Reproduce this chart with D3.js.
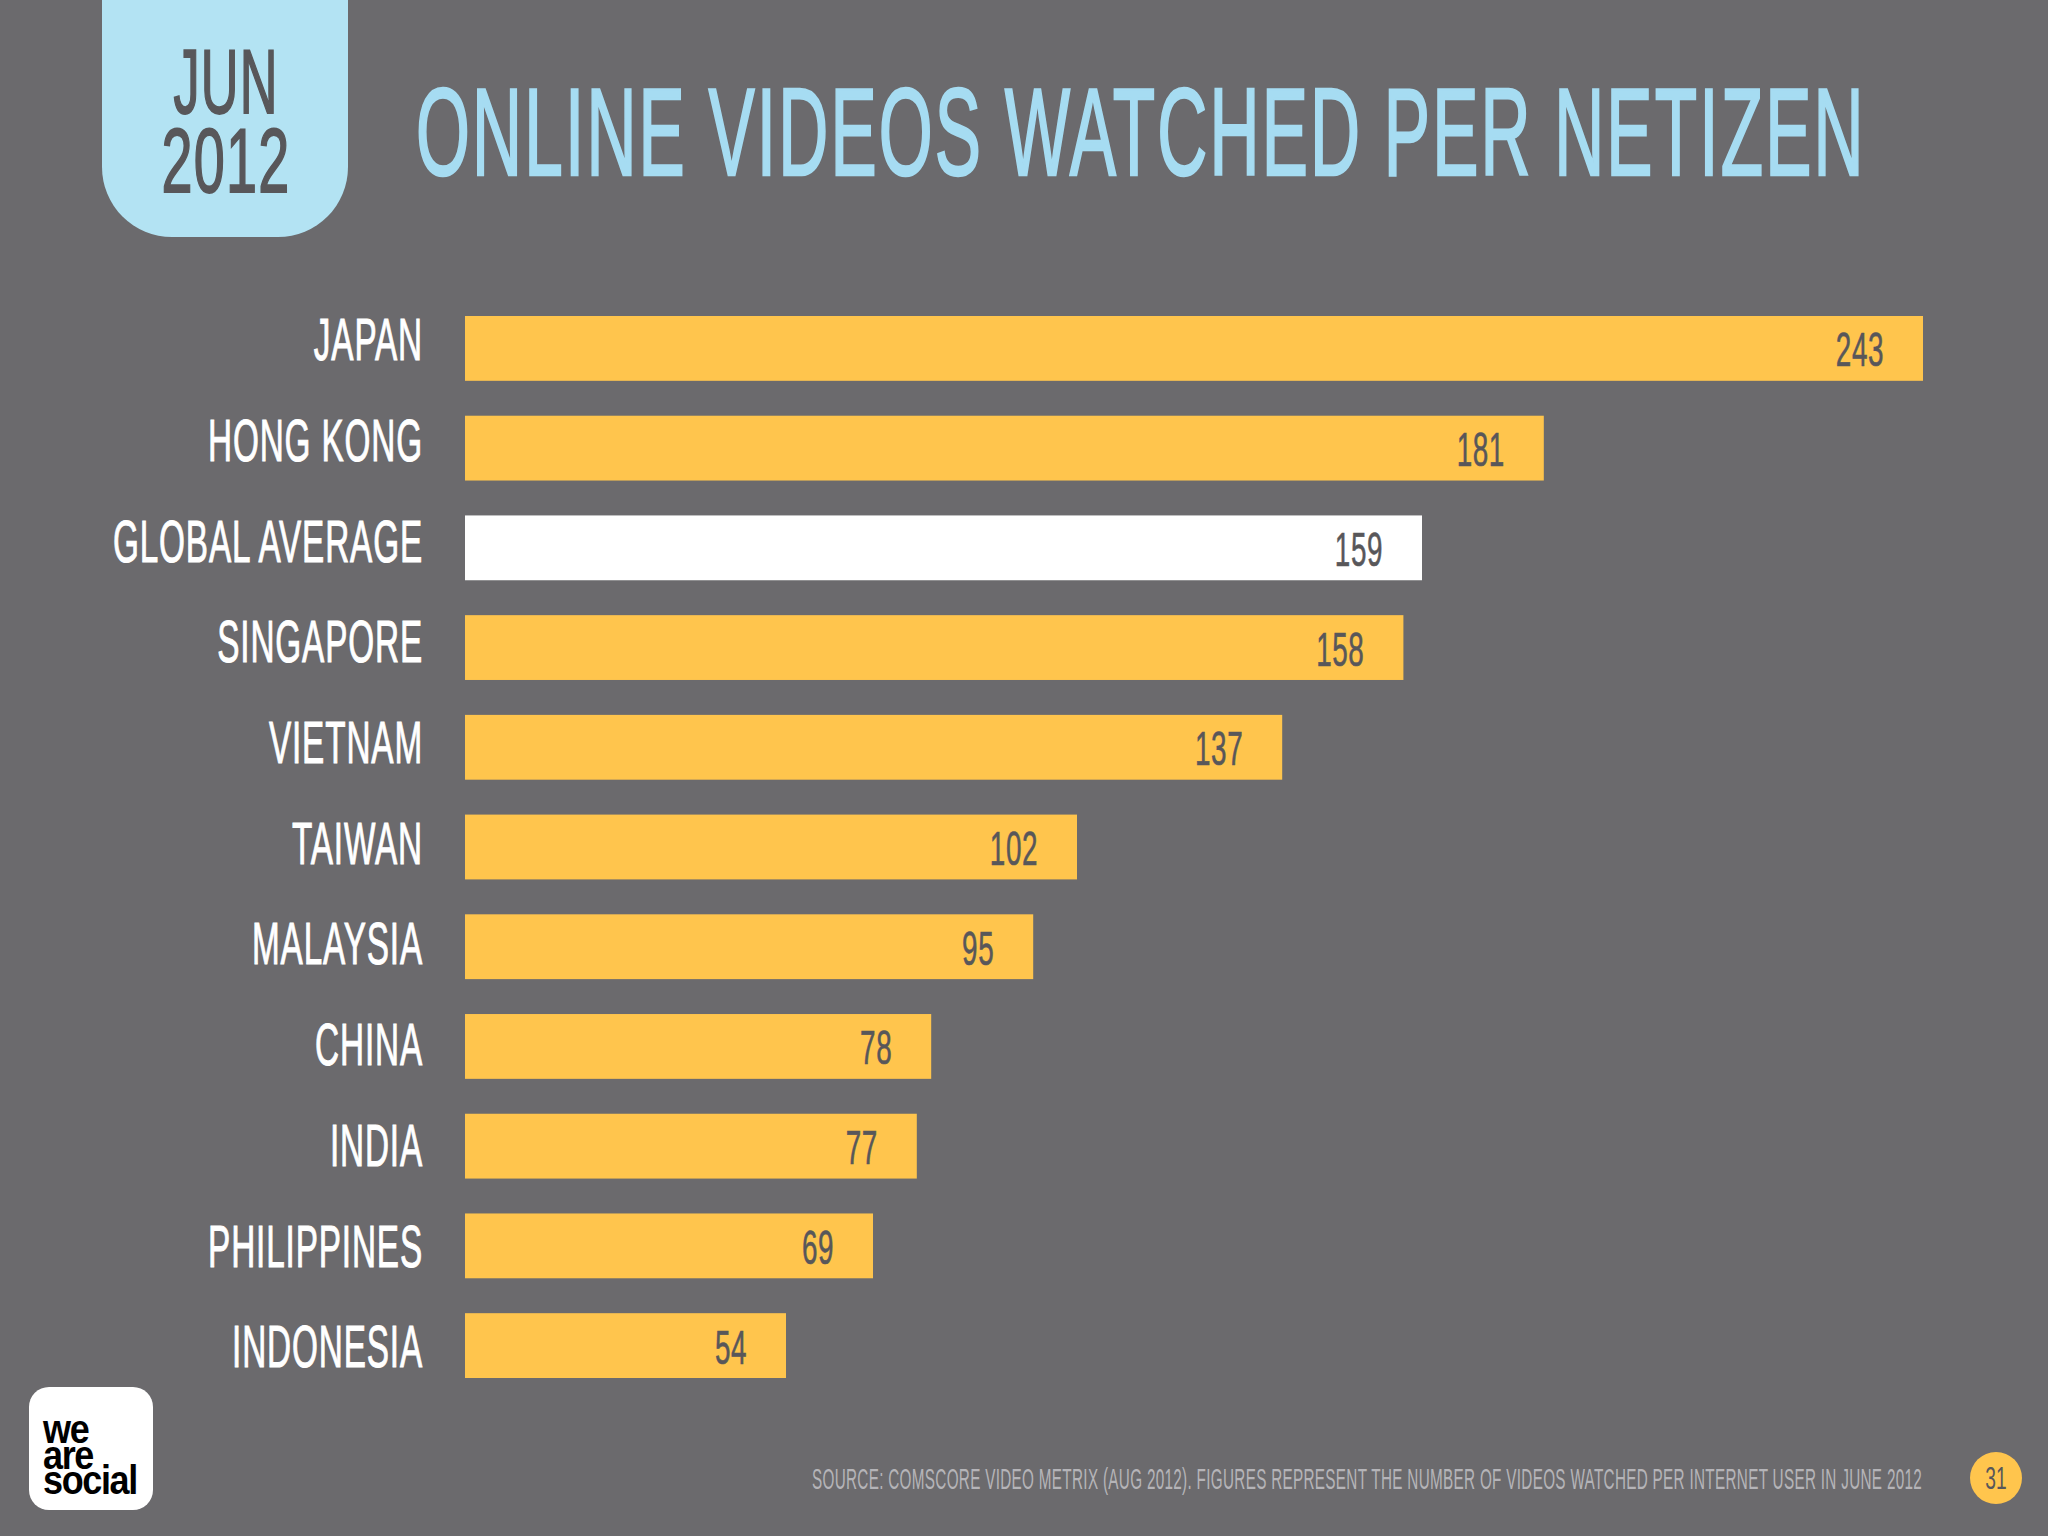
<!DOCTYPE html>
<html>
<head>
<meta charset="utf-8">
<title>Online videos watched per netizen</title>
<script src="https://cdnjs.cloudflare.com/ajax/libs/d3/7.8.5/d3.min.js"></script>
<style>
html, body { margin: 0; padding: 0; background: #6b6a6d; }
svg { display: block; }
text { font-family: "Liberation Sans", sans-serif; }
</style>
</head>
<body>
<svg id="chart" width="2048" height="1536"></svg>
<script>
var categories = ["JAPAN", "HONG KONG", "GLOBAL AVERAGE", "SINGAPORE", "VIETNAM", "TAIWAN", "MALAYSIA", "CHINA", "INDIA", "PHILIPPINES", "INDONESIA"];
// the numbers printed on the bars
var values = [243, 181, 159, 158, 137, 102, 95, 78, 77, 69, 54];
// bar lengths as they are drawn in the picture, same unit (they don't follow the printed numbers exactly)
var drawnValues = [243, 179.8, 159.5, 156.4, 136.2, 102, 94.7, 77.7, 75.3, 68, 53.5];
var badgeLines = ["JUN", "2012"];
var logoLines = ["we", "are", "social"];
var titleText = "ONLINE VIDEOS WATCHED PER NETIZEN";
var sourceText = "SOURCE: COMSCORE VIDEO METRIX (AUG 2012). FIGURES REPRESENT THE NUMBER OF VIDEOS WATCHED PER INTERNET USER IN JUNE 2012";
var pageNumber = "31";

var svg = d3.select("#chart");

var x = d3.scaleLinear().domain([0, 243]).range([465, 1923]);
var y = d3.scaleBand().domain(categories).range([316, 1378]).paddingInner(0.35).paddingOuter(0);
// the labels in the slide sit on a slightly wider step than the bars
var labelY = d3.scaleBand().domain(categories).range([288.6, 1396.3]);

// no condensed face is installed, so the text gets squeezed horizontally around its anchor
function squeeze(sel, k) {
	sel.each(function() {
		var t = d3.select(this),
			px = +t.attr("x") || 0,
			py = +t.attr("y") || 0;
		t.attr("x", 0).attr("y", 0)
			.attr("transform", "translate(" + px + "," + py + ") scale(" + k + ",1)");
	});
}

// same, but to a wanted width on the page
function fitWidth(sel, w) {
	sel.each(function() {
		squeeze(d3.select(this), w / this.getComputedTextLength());
	});
}

svg.append("rect").attr("width", 2048).attr("height", 1536).attr("fill", "#6b6a6d");

// date badge, square on top and round at the bottom
var bx0 = 102, bx1 = 348, by1 = 237, br = 70;
svg.append("path")
	.attr("d", "M" + bx0 + ",0 L" + bx1 + ",0 L" + bx1 + "," + (by1 - br) +
		" A" + br + "," + br + " 0 0 1 " + (bx1 - br) + "," + by1 +
		" L" + (bx0 + br) + "," + by1 +
		" A" + br + "," + br + " 0 0 1 " + bx0 + "," + (by1 - br) + " Z")
	.attr("fill", "#b3e3f3");

svg.selectAll(".badge-line")
	.data(badgeLines)
	.enter().append("text")
	.attr("class", "badge-line")
	.attr("x", 226)
	.attr("y", function(d, i) { return 113 + i * 79; })
	.attr("text-anchor", "middle")
	.attr("font-size", 90)
	.attr("letter-spacing", 2)
	.attr("fill", "#58575a")
	.attr("stroke", "#58575a")
	.attr("stroke-width", 1.5)
	.attr("vector-effect", "non-scaling-stroke")
	.text(function(d) { return d; })
	.each(function(d) { fitWidth(d3.select(this), d === "JUN" ? 105 : 129); });

svg.append("text")
	.attr("x", 416)
	.attr("y", 175)
	.attr("font-size", 125)
	.attr("letter-spacing", 4)
	.attr("fill", "#a6dcf2")
	.attr("stroke", "#a6dcf2")
	.attr("stroke-width", 2)
	.attr("vector-effect", "non-scaling-stroke")
	.text(titleText)
	.call(fitWidth, 1450);

// bars
svg.selectAll(".bar")
	.data(categories)
	.enter().append("rect")
	.attr("class", "bar")
	.attr("x", x(0))
	.attr("y", function(d) { return y(d); })
	.attr("width", function(d, i) { return x(drawnValues[i]) - x(0); })
	.attr("height", y.bandwidth())
	.attr("fill", function(d) { return d === "GLOBAL AVERAGE" ? "#ffffff" : "#ffc54d"; });

svg.selectAll(".value")
	.data(categories)
	.enter().append("text")
	.attr("class", "value")
	.attr("x", function(d, i) { return x(drawnValues[i]) - 39; })
	.attr("y", function(d) { return y(d) + y.bandwidth() / 2 + 18; })
	.attr("text-anchor", "end")
	.attr("font-size", 48)
	.attr("letter-spacing", 1)
	.attr("fill", "#58575a")
	.attr("stroke", "#58575a")
	.attr("stroke-width", 0.5)
	.attr("vector-effect", "non-scaling-stroke")
	.text(function(d, i) { return values[i]; })
	.call(squeeze, 0.58);

// category labels
var axis = d3.axisLeft(labelY).tickSize(0).tickPadding(42);
var axisG = svg.append("g")
	.attr("transform", "translate(" + x(0) + ",0)")
	.call(axis);
axisG.select(".domain").remove();
axisG.selectAll("text")
	.attr("dy", "0.36em")
	.attr("font-size", 59)
	.attr("font-family", "\"Liberation Sans\", sans-serif")
	.attr("letter-spacing", 1.5)
	.attr("fill", "#ffffff")
	.attr("stroke", "#ffffff")
	.attr("stroke-width", 0.8)
	.attr("vector-effect", "non-scaling-stroke")
	.call(squeeze, 0.565);

// logo
svg.append("rect")
	.attr("x", 29).attr("y", 1387)
	.attr("width", 124).attr("height", 123)
	.attr("rx", 20).attr("ry", 20)
	.attr("fill", "#ffffff");

svg.selectAll(".logo-line")
	.data(logoLines)
	.enter().append("text")
	.attr("class", "logo-line")
	.attr("x", 43)
	.attr("y", function(d, i) { return 1443 + i * 25.5; })
	.attr("font-size", 40)
	.attr("font-weight", "bold")
	.attr("letter-spacing", -1.5)
	.attr("fill", "#000000")
	.text(function(d) { return d; })
	.call(squeeze, 0.9);

// footer
svg.append("text")
	.attr("x", 812)
	.attr("y", 1489)
	.attr("font-size", 29)
	.attr("letter-spacing", 0.6)
	.attr("fill", "#b5b4b8")
	.text(sourceText)
	.call(fitWidth, 1111);

svg.append("circle")
	.attr("cx", 1996).attr("cy", 1478).attr("r", 26)
	.attr("fill", "#ffc54d");

svg.append("text")
	.attr("x", 1996)
	.attr("y", 1489)
	.attr("text-anchor", "middle")
	.attr("font-size", 32)
	.attr("fill", "#58575a")
	.text(pageNumber)
	.call(squeeze, 0.6);
</script>
</body>
</html>
